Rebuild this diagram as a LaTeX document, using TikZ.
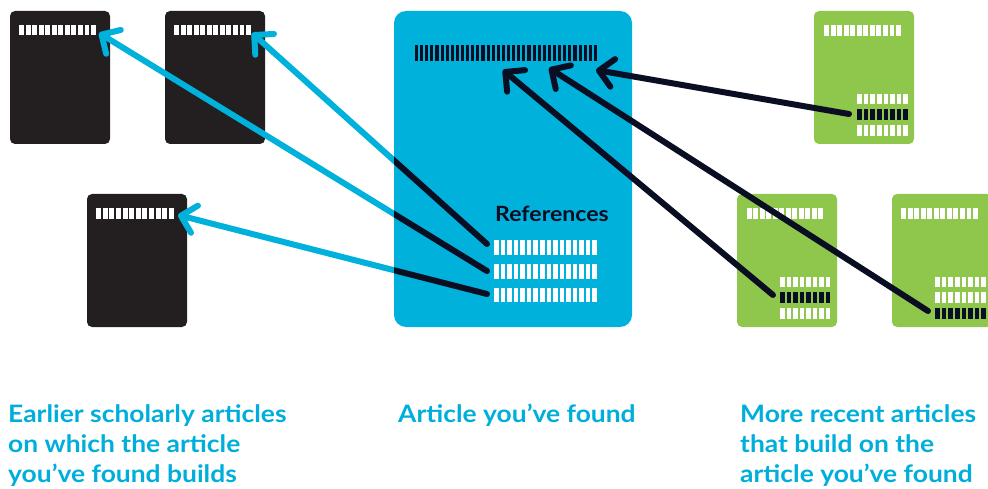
\documentclass[tikz,border=0pt]{standalone}
\usepackage{fontspec}
\setmainfont{Lato}[FakeStretch=1.1]
\usetikzlibrary{arrows.meta}

\definecolor{inkdark}{HTML}{0A0E22}
\definecolor{cardblack}{HTML}{231F20}
\definecolor{skyblue}{HTML}{00B1DB}
\definecolor{leafgreen}{HTML}{8FC74C}
\definecolor{captionblue}{HTML}{00AEDB}

% a strip of equal bars: left, top, width, height, count, gap, colour
\newcommand{\barstrip}[7]{%
  \pgfmathsetmacro{\stripbw}{(#3-(#5-1)*#6)/#5}%
  \foreach \k in {1,...,#5}{%
    \fill[#7] ({#1+(\k-1)*(\stripbw+#6)},#2) rectangle ++(\stripbw,#4);
  }%
}

\tikzset{
  card/.style={rounded corners=5pt, minimum width=100pt, minimum height=133pt,
    anchor=north west, inner sep=0pt, outer sep=0pt},
  darkcard/.style={card, fill=cardblack},
  greencard/.style={card, fill=leafgreen},
  mainbox/.style={rounded corners=12pt, fill=skyblue, minimum width=238pt,
    minimum height=316pt, anchor=north west, inner sep=0pt, outer sep=0pt},
  citeline/.style={line width=6pt, line cap=round,
    -{Straight Barb[round,length=14pt,width=28pt]}},
  caption/.style={anchor=base west, inner sep=0pt, align=left, text=captionblue,
    font=\bfseries\fontsize{24}{30}\selectfont},
}

\begin{document}
\begin{tikzpicture}[x=1pt,y=-1pt]
\useasboundingbox (0,0) rectangle (988,489);
\clip (0,0) rectangle (988,489);

% cards
\node[darkcard] (e1) at (10,11) {};
\node[darkcard] (e2) at (165,11) {};
\node[darkcard] (e3) at (87,194) {};
\node[mainbox] (art) at (394,11) {};
\node[greencard] (r1) at (814,11) {};
\node[greencard] (r2) at (737,194) {};
\node[greencard] (r3) at (892,194) {};

% title strips
\barstrip{19}{25}{77}{10}{12}{1.6}{white}
\barstrip{174}{25}{77}{10}{12}{1.6}{white}
\barstrip{96}{208}{78}{11}{12}{1.6}{white}
\barstrip{415}{45}{182}{16}{36}{2}{inkdark}
\barstrip{824}{25}{77}{11}{12}{1.6}{white}
\barstrip{747}{208}{76}{11}{12}{1.6}{white}
\barstrip{901}{208}{77}{11}{12}{1.6}{white}

% reference list of the found article
\node[anchor=base west, inner sep=0pt, text=inkdark,
  font=\bfseries\fontsize{21}{24}\selectfont] (reflabel) at (495,222) {References};
\barstrip{494}{240}{103}{15}{16}{2}{white}
\barstrip{494}{264}{103}{15}{16}{2}{white}
\barstrip{494}{288}{103}{14}{16}{2}{white}

% reference lists of the citing articles
\barstrip{857}{94}{51}{10}{8}{2}{white}
\barstrip{857}{109}{51}{11}{8}{2}{inkdark}
\barstrip{857}{125}{51}{11}{8}{2}{white}
\barstrip{780}{277}{50}{10}{8}{2}{white}
\barstrip{780}{292}{50}{11}{8}{2}{inkdark}
\barstrip{780}{308}{50}{11}{8}{2}{white}
\barstrip{935}{277}{51}{10}{8}{2}{white}
\barstrip{935}{292}{51}{11}{8}{2}{white}
\barstrip{935}{308}{51}{11}{8}{2}{inkdark}

% connector ends
\coordinate (t1) at (99,33);
\coordinate (t2) at (252,33);
\coordinate (t3) at (178,215);
\coordinate (s1) at (487,244);
\coordinate (s2) at (487,271);
\coordinate (s3) at (487,294);
\coordinate (h1) at (503,70);
\coordinate (h2) at (549,68);
\coordinate (h3) at (596,70);
\coordinate (u1) at (849,114);
\coordinate (u2) at (773,295);
\coordinate (u3) at (928,311);

% backward citations
\draw[citeline, skyblue] (s1) -- (t2);
\draw[citeline, skyblue] (s2) -- (t1);
\draw[citeline, skyblue] (s3) -- (t3);
\begin{scope}
  \clip[rounded corners=12pt] (art.north west) rectangle (art.south east);
  \draw[line width=6pt, line cap=round, inkdark] (s1) -- (t2);
  \draw[line width=6pt, line cap=round, inkdark] (s2) -- (t1);
  \draw[line width=6pt, line cap=round, inkdark] (s3) -- (t3);
\end{scope}

% forward citations
\draw[citeline, inkdark] (u1) -- (h3);
\draw[citeline, inkdark] (u2) -- (h1);
\draw[citeline, inkdark] (u3) -- (h2);

% captions (multi-line nodes sit on the baseline of their last line)
\node[caption] (capL) at (8,482) {Earlier scholarly articles\\on which the article\\you’ve found builds};
\node[caption] (capM) at (398,422) {Article you’ve found};
\node[caption] (capR) at (740,482) {More recent articles\\that build on the\\article you’ve found};
\end{tikzpicture}
\end{document}
